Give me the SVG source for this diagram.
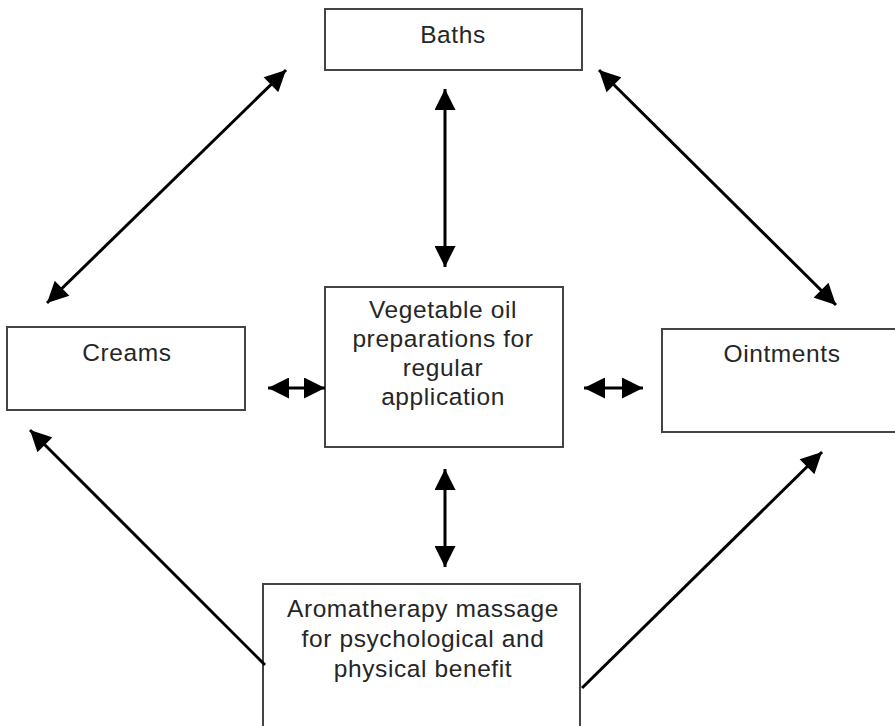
<svg xmlns="http://www.w3.org/2000/svg" width="895" height="726" viewBox="0 0 895 726">
<defs>
<marker id="ah" viewBox="0 0 10 10" refX="10" refY="5" markerWidth="7.5" markerHeight="7" markerUnits="strokeWidth" orient="auto-start-reverse">
<path d="M0,0 L10,5 L0,10 Z" fill="#000"/>
</marker>
</defs>
<style>
.box{fill:#fff;stroke:#444;stroke-width:2}
.t{font-family:"Liberation Sans",Arial,sans-serif;font-size:24.5px;letter-spacing:0.6px;fill:#262626;text-anchor:middle}
.c{stroke:#000;stroke-width:3;fill:none}
</style>
<rect width="895" height="726" fill="#fff"/>
<g id="baths"><rect class="box" x="325" y="9" width="257" height="61"/><text class="t" x="453" y="43">Baths</text></g>
<g id="creams"><rect class="box" x="7" y="327" width="238" height="83"/><text class="t" x="127" y="361">Creams</text></g>
<g id="ointments"><rect class="box" x="662" y="329" width="240" height="103"/><text class="t" x="782" y="362">Ointments</text></g>
<g id="vegetable"><rect class="box" x="325" y="287" width="238" height="160"/>
<text class="t" x="443" y="318">Vegetable oil</text>
<text class="t" x="443" y="347">preparations for</text>
<text class="t" x="443" y="376">regular</text>
<text class="t" x="443" y="405">application</text></g>
<g id="aromatherapy"><rect class="box" x="263" y="584" width="317" height="150"/>
<text class="t" x="423" y="617">Aromatherapy massage</text>
<text class="t" x="423" y="647">for psychological and</text>
<text class="t" x="423" y="677">physical benefit</text></g>
<g id="connectors">
<line class="c" x1="445" y1="89" x2="445" y2="267" marker-start="url(#ah)" marker-end="url(#ah)"/>
<line class="c" x1="445" y1="469" x2="445" y2="567" marker-start="url(#ah)" marker-end="url(#ah)"/>
<line class="c" x1="268" y1="388" x2="325" y2="388" marker-start="url(#ah)" marker-end="url(#ah)"/>
<line class="c" x1="584" y1="388" x2="643" y2="388" marker-start="url(#ah)" marker-end="url(#ah)"/>
<line class="c" x1="286" y1="70" x2="47" y2="303" marker-start="url(#ah)" marker-end="url(#ah)"/>
<line class="c" x1="599" y1="70" x2="836" y2="305" marker-start="url(#ah)" marker-end="url(#ah)"/>
<line class="c" x1="265" y1="665" x2="30" y2="430" marker-end="url(#ah)"/>
<line class="c" x1="582" y1="688" x2="822" y2="452" marker-end="url(#ah)"/>
</g>
</svg>
